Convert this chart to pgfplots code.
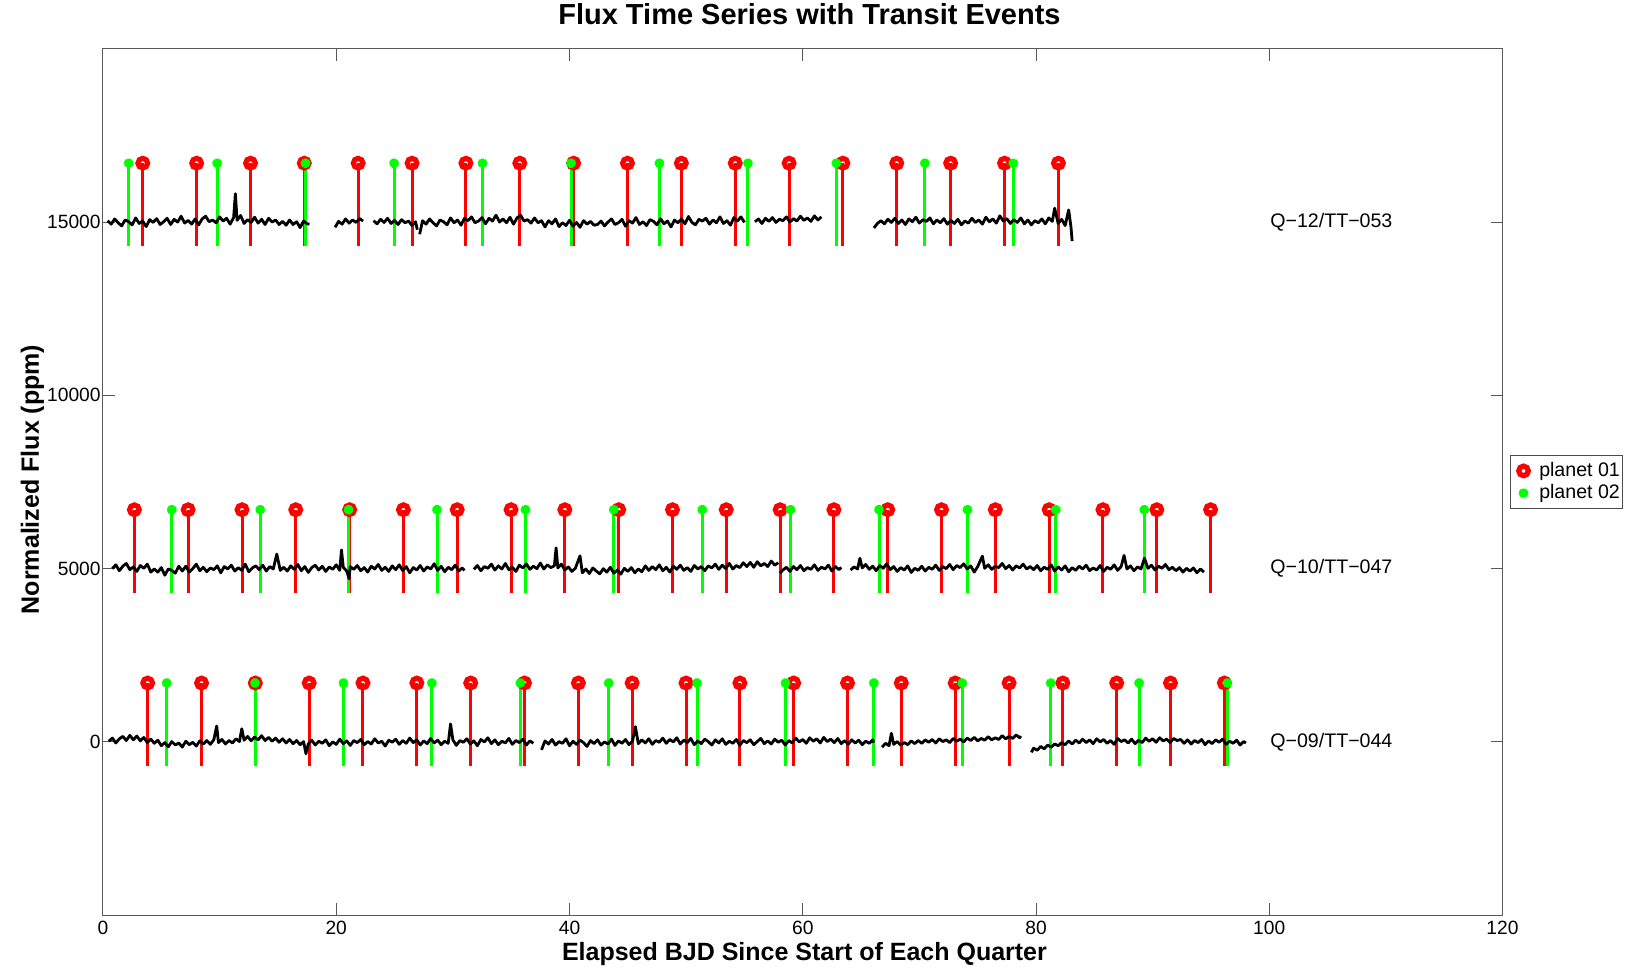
\documentclass[border=0pt]{standalone}
\usepackage{pgfplots}
\pgfplotsset{compat=1.18}
\usepackage{fontspec}
\setmainfont{Liberation Sans}
\definecolor{mgreen}{rgb}{0,1,0}
\definecolor{mred}{rgb}{1,0,0}
\pgfplotsset{mylegimg/.style={legend image code/.code={\path (0cm,0cm) (0.44cm,0cm); \draw[##1] plot coordinates {(0.19cm,0cm)};}}}
\pgfplotsset{flux/.style={black, line width=1.4pt, line join=round, forget plot}}
\begin{document}
\begin{tikzpicture}
\begin{axis}[
  name=ax,
  scale only axis,
  width=699.75pt, height=433.2pt,
  xmin=0, xmax=120, ymin=-5000, ymax=20000,
  xtick={0,20,...,120},
  ytick={0,5000,10000,15000},
  scaled ticks=false,
  tick align=inside,
  major tick length=6pt,
  axis line style={black!65, line width=0.5pt},
  tick style={black!65, line width=0.5pt},
  /pgf/number format/assume math mode=true,
  /pgf/number format/1000 sep={},
  tick label style={font=\fontsize{9.6}{11}\selectfont},
  xticklabel style={anchor=base, yshift=-9.4pt},
  yticklabel style={inner xsep=1pt},
  every axis title shift=0pt,
  title={Flux Time Series with Transit Events},
  title style={font=\bfseries\fontsize{14.5}{17}\selectfont, at={(axis description cs:0.5048,1.0275)}, anchor=base},
  xlabel={Elapsed BJD Since Start of Each Quarter},
  xlabel style={font=\bfseries\fontsize{12.5}{15}\selectfont, at={(axis description cs:0.5012,-0.0526)}, anchor=base},
  ylabel={Normalized Flux (ppm)},
  ylabel style={font=\bfseries\fontsize{12.5}{15}\selectfont, at={(axis description cs:-0.0458,0.503)}, anchor=base},
  legend style={at={(axis description cs:1.00514,0.5)}, anchor=west, draw=black!70, line width=0.5pt, fill=white,
    inner xsep=1pt, inner ysep=1.5pt, row sep=-1.5pt, nodes={inner xsep=0.5pt}, font=\fontsize{9.8}{11}\selectfont, cells={anchor=west}},
]
% planet 01 stems (top at base+1700, down to base-700)
\addplot[only marks, mark=o, mark size=2.4pt, mark options={draw=mred, fill=white, line width=2.6pt},
  mylegimg,
  error bars/.cd, y dir=minus, y fixed=2400, error mark=none, error bar style={mred, line width=1.5pt}]
table {
x y
3.41 16700
8.03 16700
12.65 16700
17.26 16700
21.88 16700
26.50 16700
31.12 16700
35.74 16700
40.35 16700
44.97 16700
49.59 16700
54.21 16700
58.83 16700
63.44 16700
68.06 16700
72.68 16700
77.30 16700
81.92 16700
2.69 6700
7.30 6700
11.92 6700
16.53 6700
21.15 6700
25.76 6700
30.37 6700
34.99 6700
39.60 6700
44.22 6700
48.83 6700
53.44 6700
58.06 6700
62.67 6700
67.29 6700
71.90 6700
76.51 6700
81.13 6700
85.74 6700
90.36 6700
94.97 6700
3.83 1700
8.45 1700
13.06 1700
17.68 1700
22.29 1700
26.91 1700
31.53 1700
36.14 1700
40.76 1700
45.37 1700
49.99 1700
54.61 1700
59.22 1700
63.84 1700
68.45 1700
73.07 1700
77.69 1700
82.30 1700
86.92 1700
91.53 1700
96.15 1700
};
\addlegendentry{planet 01}
% planet 02 stems
\addplot[only marks, mark=asterisk, mark size=2.3pt, mark options={draw=mgreen, line width=1.9pt},
  mylegimg,
  error bars/.cd, y dir=minus, y fixed=2400, error mark=none, error bar style={mgreen, line width=1.5pt}]
table {
x y
2.20 16700
9.79 16700
17.37 16700
24.96 16700
32.54 16700
40.13 16700
47.71 16700
55.30 16700
62.88 16700
70.47 16700
78.05 16700
5.90 6700
13.48 6700
21.06 6700
28.64 6700
36.22 6700
43.80 6700
51.38 6700
58.96 6700
66.54 6700
74.12 6700
81.70 6700
89.28 6700
5.46 1700
13.04 1700
20.62 1700
28.20 1700
35.78 1700
43.36 1700
50.94 1700
58.52 1700
66.10 1700
73.68 1700
81.26 1700
88.84 1700
96.42 1700
};
\addlegendentry{planet 02}
% ---------------- flux: Q-12/TT-053 ----------------
\addplot[flux] coordinates {
(0.4,15040) (0.7,14940) (1.0,15090) (1.3,14980) (1.6,14890) (1.9,15060) (2.2,15010) (2.5,14920) (2.8,15120) (3.1,14960)
(3.4,15030) (3.7,14870) (4.0,15070) (4.3,14990) (4.6,15100) (4.9,14930) (5.2,15010) (5.5,15110) (5.8,14930) (6.1,15080)
(6.4,15000) (6.7,15170) (7.0,14970) (7.3,15050) (7.6,14940) (7.9,15090) (8.2,14920) (8.5,15090) (8.8,15170) (9.1,15010)
(9.4,15060) (9.7,14980) (10.0,15150) (10.3,15030) (10.6,15110) (10.9,14940) (11.2,15130) (11.35,15820) (11.5,15050) (11.8,15190)
(12.1,14960) (12.4,15070) (12.7,14990) (13.0,15140) (13.3,14970) (13.6,15080) (13.9,14930) (14.2,15110) (14.5,15000) (14.8,15060)
(15.1,14930) (15.4,15020) (15.7,14910) (16.0,15060) (16.3,14930) (16.6,15010) (16.9,14840) (17.2,15030) (17.5,14950) (17.7,14940)
};
\addplot[flux] coordinates {
(19.9,14850) (20.2,15020) (20.5,14940) (20.8,15090) (21.1,14970) (21.4,15060) (21.7,14990) (22.0,15100) (22.3,15030)
};
\addplot[flux] coordinates {
(23.2,15040) (23.5,14950) (23.8,15080) (24.1,14990) (24.4,15110) (24.7,14960) (25.0,15050) (25.3,14930) (25.6,15070) (25.9,14980)
(26.2,15030) (26.5,14900) (26.8,15010) (26.95,14780)
};
\addplot[flux] coordinates {
(27.15,14650) (27.4,15040) (27.7,14940) (28.0,15090) (28.3,14980) (28.6,14890) (28.9,15060) (29.2,15010) (29.5,14920) (29.8,15120)
(30.1,14980) (30.4,15060) (30.7,14910) (31.0,15110) (31.3,15040) (31.6,15150) (31.9,14980) (32.2,15030) (32.5,15130) (32.8,14950)
(33.1,15110) (33.4,15030) (33.7,15200) (34.0,15000) (34.3,15090) (34.6,14980) (34.9,15140) (35.2,14940) (35.5,15120) (35.8,15200)
(36.1,15030) (36.4,15070) (36.7,14970) (37.0,15120) (37.3,14980) (37.6,15040) (37.9,14860) (38.2,15040) (38.5,14950) (38.8,15090)
(39.1,14870) (39.4,14980) (39.7,14900) (40.0,15050) (40.3,14880) (40.6,14990) (40.9,14850) (41.2,15040) (41.5,14940) (41.8,15020)
(42.1,14910) (42.4,14930) (42.7,15030) (43.0,14890) (43.3,15000) (43.6,15090) (43.9,14930) (44.2,14980) (44.5,15080) (44.8,14880)
(45.1,15040) (45.4,14970) (45.7,15130) (46.0,14930) (46.3,15010) (46.6,14900) (46.9,15070) (47.2,15020) (47.5,14920) (47.8,15100)
(48.1,14950) (48.4,15030) (48.7,14860) (49.0,15060) (49.3,14980) (49.6,15090) (49.9,14950) (50.2,15160) (50.5,14990) (50.8,14920)
(51.1,15080) (51.4,15030) (51.7,15110) (52.0,14940) (52.3,15060) (52.6,14980) (52.9,15150) (53.2,14960) (53.5,15040) (53.8,14910)
(54.1,15130) (54.4,15030) (54.7,15150) (55.0,14990)
};
\addplot[flux] coordinates {
(55.9,15010) (56.2,15090) (56.5,14960) (56.8,15110) (57.1,15020) (57.4,15130) (57.7,14990) (58.0,15080) (58.3,15040) (58.6,15150)
(58.9,15000) (59.2,15100) (59.5,15030) (59.8,15170) (60.1,15050) (60.4,15120) (60.7,15020) (61.0,15180) (61.3,15060) (61.6,15150)
};
\addplot[flux] coordinates {
(66.1,14830) (66.4,14960) (66.7,15040) (67.0,14950) (67.3,15080) (67.6,14990) (67.9,15110) (68.2,14960) (68.5,15060) (68.8,14930)
(69.1,15090) (69.4,15010) (69.7,15140) (70.0,14970) (70.3,15070) (70.6,15020) (70.9,15120) (71.2,14950) (71.5,15060) (71.8,14980)
(72.1,15100) (72.4,14940) (72.7,15050) (73.0,14960) (73.3,15080) (73.6,14920) (73.9,15030) (74.2,14970) (74.5,15110) (74.8,14990)
(75.1,15060) (75.4,14940) (75.7,15140) (76.0,15010) (76.3,15090) (76.6,14970) (76.9,15180) (77.2,15030) (77.5,15100) (77.8,14960)
(78.1,15070) (78.4,14990) (78.7,15120) (79.0,14950) (79.3,15060) (79.6,14920) (79.9,15040) (80.2,14980) (80.5,15090) (80.8,14950)
(81.1,15120) (81.4,15020) (81.6,15400) (81.9,14960) (82.2,15080) (82.5,14900) (82.8,15350) (83.0,14850) (83.1,14450)
};
% ---------------- flux: Q-10/TT-047 ----------------
\addplot[flux] coordinates {
(0.8,5000) (1.1,5110) (1.4,4940) (1.7,5070) (2.0,5150) (2.3,4970) (2.6,5050) (2.9,4920) (3.2,5090) (3.5,5010)
(3.8,5130) (4.1,4900) (4.4,4990) (4.7,4900) (5.0,5030) (5.3,4810) (5.6,4990) (5.9,4950) (6.2,4870) (6.5,5070)
(6.8,4930) (7.1,5070) (7.4,4900) (7.7,5000) (8.0,5130) (8.3,4940) (8.6,5040) (8.9,4910) (9.2,5020) (9.5,4970)
(9.8,5080) (10.1,4880) (10.4,5060) (10.7,4990) (11.0,5100) (11.3,4930) (11.6,5030) (11.9,4950) (12.2,5130) (12.5,4910)
(12.8,5020) (13.1,5080) (13.4,4970) (13.7,5100) (14.0,4930) (14.3,5060) (14.6,4990) (14.9,5420) (15.2,4950) (15.5,5040)
(15.8,4930) (16.1,5080) (16.4,4980) (16.7,5120) (17.0,4940) (17.3,5060) (17.6,4890) (17.9,5030) (18.2,5100) (18.5,4960)
(18.8,5070) (19.1,4920) (19.4,5050) (19.7,4980) (20.0,5110) (20.3,4950) (20.45,5540) (20.6,5040) (20.9,4930) (21.1,4710)
(21.2,5060) (21.5,4980) (21.8,5090) (22.1,4940) (22.4,5030) (22.7,4900) (23.0,5070) (23.3,4990) (23.6,5120) (23.9,4950)
(24.2,5040) (24.5,4920) (24.8,5080) (25.1,4970) (25.4,5110) (25.7,4940) (26.0,5060) (26.3,4880) (26.6,5030) (26.9,4960)
(27.2,5090) (27.5,4930) (27.8,5050) (28.1,4990) (28.4,5140) (28.7,4950) (29.0,5070) (29.3,4910) (29.6,5040) (29.9,4970)
(30.2,5100) (30.5,4930) (30.8,5020) (31.0,4950)
};
\addplot[flux] coordinates {
(31.8,4980) (32.1,5090) (32.4,4940) (32.7,5060) (33.0,5010) (33.3,5130) (33.6,4960) (33.9,5080) (34.2,4990) (34.5,5150)
(34.8,4970) (35.1,5040) (35.4,4920) (35.7,5100) (36.0,5020) (36.3,5140) (36.6,4980) (36.9,5070) (37.2,5000) (37.5,5160)
(37.8,4990) (38.1,5110) (38.4,5030) (38.7,5080) (38.85,5600) (39.0,5020) (39.3,5130) (39.6,4960) (39.9,5050) (40.2,4920)
(40.5,5010) (40.9,5370) (41.1,4880) (41.4,4990) (41.7,4860) (42.0,5020) (42.3,4930) (42.6,4850) (42.9,5000) (43.2,4900)
(43.5,5040) (43.8,4870) (44.1,4960) (44.4,4840) (44.7,5010) (45.0,4920) (45.3,5030) (45.6,4880) (45.9,4990) (46.2,4910)
(46.5,5080) (46.8,4950) (47.1,5060) (47.4,4970) (47.7,5110) (48.0,4940) (48.3,5040) (48.6,4900) (48.9,5070) (49.2,4980)
(49.5,5100) (49.8,4950) (50.1,5030) (50.4,4920) (50.7,5090) (51.0,4990) (51.3,5060) (51.6,4940) (51.9,5080) (52.2,5020)
(52.5,5130) (52.8,4980) (53.1,5100) (53.4,5000) (53.7,5150) (54.0,4990) (54.3,5090) (54.6,5030) (54.9,5170) (55.2,5060)
(55.5,5180) (55.8,5040) (56.1,5200) (56.4,5080) (56.7,5150) (57.0,5060) (57.3,5220) (57.6,5100) (57.9,5170)
};
\addplot[flux] coordinates {
(58.05,4870) (58.3,4960) (58.6,5040) (58.9,4920) (59.2,5060) (59.5,4970) (59.8,5090) (60.1,4940) (60.4,5030) (60.7,4980)
(61.0,5110) (61.3,4950) (61.6,5040) (61.9,4990) (62.2,5100) (62.5,4930) (62.8,5060) (63.1,4970) (63.3,5040)
};
\addplot[flux] coordinates {
(64.1,4960) (64.4,5050) (64.7,4990) (64.9,5300) (65.1,5020) (65.4,5120) (65.7,4980) (66.0,5070) (66.3,4940) (66.6,5090)
(66.9,5010) (67.2,5140) (67.5,4970) (67.8,5060) (68.1,4920) (68.4,5030) (68.7,4960) (69.0,5080) (69.3,4890) (69.6,5010)
(69.9,4950) (70.2,5070) (70.5,4930) (70.8,5040) (71.1,4980) (71.4,5100) (71.7,4950) (72.0,5060) (72.3,5000) (72.6,5120)
(72.9,4970) (73.2,5090) (73.5,5030) (73.8,5140) (74.1,4990) (74.4,5080) (74.7,4900) (75.0,5060) (75.4,5360) (75.6,5010)
(75.9,5110) (76.2,4980) (76.5,5070) (76.8,5030) (77.1,5150) (77.4,5000) (77.7,5090) (78.0,4960) (78.3,5080) (78.6,5020)
(78.9,5130) (79.2,4990) (79.5,5060) (79.8,4970) (80.1,5090) (80.4,4940) (80.7,5040) (81.0,4980) (81.3,5110) (81.6,4930)
(81.9,5050) (82.2,4960) (82.5,5080) (82.8,4910) (83.1,5030) (83.4,4950) (83.7,5070) (84.0,4990) (84.3,5100) (84.6,4940)
(84.9,5020) (85.2,4960) (85.5,5090) (85.8,4920) (86.1,5040) (86.4,4980) (86.7,5110) (87.0,4950) (87.3,5060) (87.55,5380)
(87.8,4990) (88.1,5080) (88.4,4940) (88.7,5050) (89.0,4990) (89.3,5300) (89.6,5010) (89.9,5100) (90.2,4960) (90.5,5070)
(90.8,5010) (91.1,5120) (91.4,4970) (91.7,5040) (92.0,4940) (92.3,5030) (92.6,4900) (92.9,5010) (93.2,4930) (93.5,5020)
(93.8,4880) (94.1,4990) (94.4,4900)
};
% ---------------- flux: Q-09/TT-044 ----------------
\addplot[flux] coordinates {
(0.5,20) (0.8,110) (1.1,-30) (1.4,90) (1.7,160) (2.0,40) (2.3,190) (2.6,60) (2.9,170) (3.2,30)
(3.5,130) (3.8,-20) (4.1,80) (4.4,-40) (4.7,50) (5.0,-110) (5.3,-20) (5.6,-140) (5.9,10) (6.2,-90)
(6.5,-30) (6.8,-150) (7.1,20) (7.4,-80) (7.7,-10) (8.0,-120) (8.3,30) (8.6,-60) (8.9,40) (9.2,-70)
(9.5,60) (9.75,460) (9.9,-20) (10.2,70) (10.5,-60) (10.8,40) (11.1,-30) (11.4,90) (11.7,10) (11.9,380)
(12.1,50) (12.4,160) (12.7,30) (13.0,140) (13.3,60) (13.6,180) (13.9,40) (14.2,130) (14.5,20) (14.8,110)
(15.1,-10) (15.4,90) (15.7,-30) (16.0,70) (16.3,-50) (16.6,40) (16.9,-80) (17.2,10) (17.4,-340) (17.6,-60)
(17.9,50) (18.2,-90) (18.5,20) (18.8,-40) (19.1,60) (19.4,-110) (19.7,0) (20.0,-70) (20.3,80) (20.6,-50)
(20.9,30) (21.2,-100) (21.5,40) (21.8,-20) (22.1,70) (22.4,-80) (22.7,10) (23.0,-60) (23.3,90) (23.6,-30)
(23.9,20) (24.2,-120) (24.5,50) (24.8,-10) (25.1,80) (25.4,-70) (25.7,40) (26.0,-40) (26.3,110) (26.6,-20)
(26.9,60) (27.2,-90) (27.5,30) (27.8,-50) (28.1,100) (28.4,-30) (28.7,50) (29.0,-80) (29.3,20) (29.6,-40)
(29.8,520) (30.0,60) (30.3,-100) (30.6,40) (30.9,-10) (31.2,90) (31.5,-60) (31.8,30) (32.1,-110) (32.4,70)
(32.7,0) (33.0,120) (33.3,-50) (33.6,60) (33.9,-80) (34.2,20) (34.5,-30) (34.8,100) (35.1,-70) (35.4,40)
(35.7,-20) (36.0,80) (36.3,-90) (36.6,30) (36.9,-40)
};
\addplot[flux] coordinates {
(37.6,-230) (37.9,30) (38.2,-60) (38.5,70) (38.8,-90) (39.1,10) (39.4,-40) (39.7,90) (40.0,-110) (40.3,20)
(40.6,-70) (40.9,50) (41.2,-20) (41.5,-130) (41.8,40) (42.1,-50) (42.4,60) (42.7,-90) (43.0,0) (43.3,-60)
(43.6,80) (43.9,-100) (44.2,30) (44.5,-40) (44.8,70) (45.1,-80) (45.4,20) (45.65,440) (45.9,-50) (46.2,60)
(46.5,-30) (46.8,90) (47.1,-70) (47.4,40) (47.7,-10) (48.0,110) (48.3,-40) (48.6,70) (48.9,0) (49.2,120)
(49.5,-60) (49.8,50) (50.1,-20) (50.4,100) (50.7,-80) (51.0,30) (51.3,-50) (51.6,80) (51.9,10) (52.2,-90)
(52.5,60) (52.8,-30) (53.1,90) (53.4,-70) (53.7,20) (54.0,-40) (54.3,70) (54.6,-100) (54.9,40) (55.2,-20)
(55.5,60) (55.8,-80) (56.1,10) (56.4,100) (56.7,-50) (57.0,30) (57.3,-60) (57.6,80) (57.9,-10) (58.2,50)
(58.5,-90) (58.8,40) (59.1,-30) (59.4,110) (59.7,0) (60.0,70) (60.3,-40) (60.6,120) (60.9,20) (61.2,90)
(61.5,-30) (61.8,130) (62.1,10) (62.4,80) (62.7,-20) (63.0,100) (63.3,-50) (63.6,40) (63.9,-70) (64.2,60)
(64.5,-30) (64.8,50) (65.1,-80) (65.4,20) (65.7,-40) (66.0,60) (66.1,-20)
};
\addplot[flux] coordinates {
(66.8,-150) (67.1,-40) (67.4,-110) (67.6,250) (67.8,-70) (68.1,10) (68.4,-90) (68.7,-20) (69.0,-80) (69.3,30)
(69.6,-50) (69.9,40) (70.2,-40) (70.5,60) (70.8,-10) (71.1,70) (71.4,-30) (71.7,90) (72.0,10) (72.3,60)
(72.6,-20) (72.9,100) (73.2,20) (73.5,80) (73.8,0) (74.1,110) (74.4,40) (74.7,130) (75.0,30) (75.3,100)
(75.6,50) (75.9,150) (76.2,60) (76.5,120) (76.8,70) (77.1,180) (77.4,90) (77.7,160) (78.0,100) (78.3,200)
(78.6,120) (78.7,170)
};
\addplot[flux] coordinates {
(79.6,-300) (79.8,-180) (80.1,-240) (80.4,-130) (80.7,-200) (81.0,-90) (81.3,-150) (81.6,-60) (81.9,-110) (82.2,-20)
(82.5,-80) (82.8,30) (83.1,-60) (83.4,50) (83.7,-30) (84.0,80) (84.3,-20) (84.6,60) (84.9,-50) (85.2,90)
(85.5,0) (85.8,70) (86.1,-40) (86.4,40) (86.7,-70) (87.0,100) (87.3,10) (87.6,60) (87.9,-30) (88.2,80)
(88.5,-50) (88.8,50) (89.1,-20) (89.4,110) (89.7,20) (90.0,90) (90.3,-10) (90.6,120) (90.9,30) (91.2,80)
(91.5,-20) (91.8,100) (92.1,40) (92.4,70) (92.7,-40) (93.0,60) (93.3,-60) (93.6,40) (93.9,-20) (94.2,70)
(94.5,-80) (94.8,30) (95.1,-50) (95.4,60) (95.7,-10) (96.0,80) (96.3,-70) (96.6,20) (96.9,-40) (97.2,50)
(97.5,-90) (97.8,10) (98.0,-30)
};
% quarter labels
\node[anchor=west, inner sep=0pt, font=\fontsize{9.8}{11}\selectfont] at (axis cs:100.06,15000) {Q−12/TT−053};
\node[anchor=west, inner sep=0pt, font=\fontsize{9.8}{11}\selectfont] at (axis cs:100.06,5000) {Q−10/TT−047};
\node[anchor=west, inner sep=0pt, font=\fontsize{9.8}{11}\selectfont] at (axis cs:100.06,0) {Q−09/TT−044};
\end{axis}
\pgfresetboundingbox
\path[use as bounding box] ([xshift=-51.5pt,yshift=-27.4pt]ax.south west) rectangle ([xshift=62.25pt,yshift=24.4pt]ax.north east);
\end{tikzpicture}
\end{document}
